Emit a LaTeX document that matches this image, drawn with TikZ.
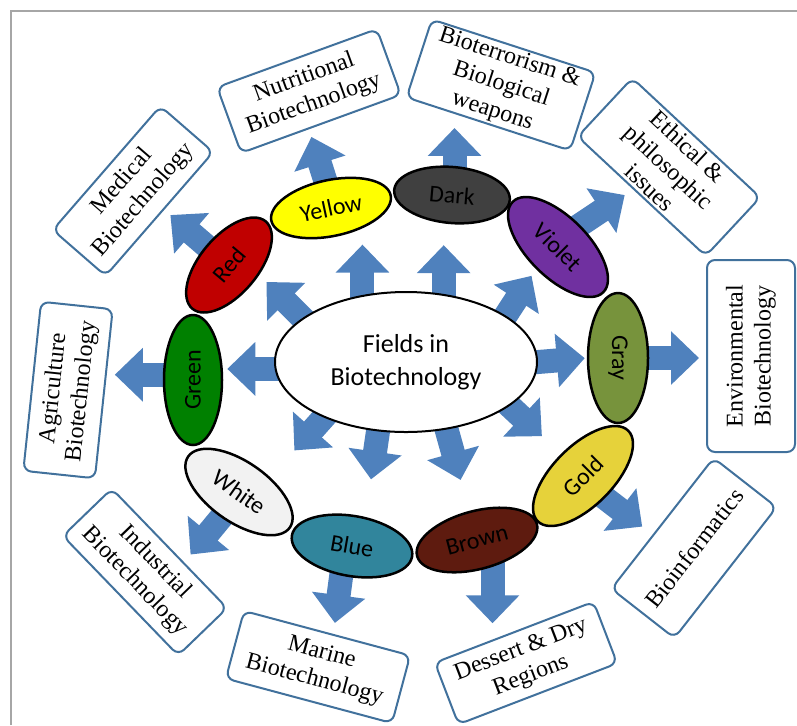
\documentclass[tikz,border=0pt]{standalone}
\usepackage{fontspec}
\setmainfont{Liberation Serif}
\newfontfamily\calibrisub{Carlito}
\usetikzlibrary{arrows.meta,shapes.geometric,backgrounds}

\definecolor{arrowblue}{HTML}{4F81BD}
\definecolor{boxedge}{HTML}{41719C}
\definecolor{framegray}{HTML}{A6A6A6}
\definecolor{fRed}{HTML}{C00000}
\definecolor{fYellow}{HTML}{FFFF00}
\definecolor{fDark}{HTML}{404040}
\definecolor{fViolet}{HTML}{7030A0}
\definecolor{fGray}{HTML}{77933C}
\definecolor{fGold}{HTML}{E6D23A}
\definecolor{fBrown}{HTML}{5E1B0F}
\definecolor{fBlue}{HTML}{31859C}
\definecolor{fWhite}{HTML}{F2F2F2}
\definecolor{fGreen}{HTML}{008000}

\begin{document}
\begin{tikzpicture}[
  x=0.5pt, y=-0.5pt,
  hub/.style      = {ellipse, draw, fill=white, line width=1pt, inner sep=0pt,
                     minimum width=131pt, minimum height=70pt, align=center,
                     font=\calibrisub\fontsize{13}{16.5}\selectfont},
  ringell/.style  = {ellipse, draw, line width=1.25pt, inner sep=0pt,
                     font=\calibrisub\fontsize{12}{14}\selectfont},
  topicbox/.style = {draw=boxedge, line width=1pt, rounded corners=4pt,
                     fill=white, align=center, inner sep=0pt,
                     font=\fontsize{12}{14}\selectfont},
  blockarr/.style = {draw=arrowblue, line width=12pt, shorten <=-5pt,
                     -{Triangle[width=26pt,length=14pt]}},
]
\useasboundingbox (0,0) rectangle (797,725);

%% ==== frame ===============================================================
\draw[framegray, line width=1pt] (11,725) -- (11,11) -- (797,11);

%% ==== hub =================================================================
\node[hub] (fields) at (406,362) {Fields in\\Biotechnology};

%% ==== ring of colour fields ===============================================
\node[ringell, fill=fRed,    minimum width=57pt, minimum height=29pt, rotate=50]
  (fred) at (229,265) {Red};
\node[ringell, fill=fYellow, minimum width=61pt, minimum height=28pt, rotate=12]
  (fyellow) at (331,208) {Yellow};
\node[ringell, fill=fDark,   minimum width=58pt, minimum height=28pt, rotate=-5]
  (fdark) at (452,195) {Dark};
\node[ringell, fill=fViolet, minimum width=64pt, minimum height=30pt, rotate=-45]
  (fviolet) at (558,247) {Violet};
\node[ringell, fill=fGray,   minimum width=65pt, minimum height=30pt, rotate=-90]
  (fgray) at (618,358) {Gray};
\node[ringell, fill=fGold,   minimum width=64pt, minimum height=30pt, rotate=45]
  (fgold) at (583,476) {Gold};
\node[ringell, fill=fBrown,  minimum width=62pt, minimum height=29pt, rotate=15]
  (fbrown) at (477,540) {Brown};
\node[ringell, fill=fBlue,   minimum width=61pt, minimum height=30pt, rotate=-10]
  (fblue) at (352,546) {Blue};
\node[ringell, fill=fWhite,  minimum width=62pt, minimum height=30pt, rotate=-35]
  (fwhite) at (239,492) {White};
\node[ringell, fill=fGreen,  minimum width=65pt, minimum height=29pt, rotate=90]
  (fgreen) at (193,380) {Green};

%% ==== outer topics ========================================================
\node[topicbox, minimum width=82pt, minimum height=35pt, rotate=49]
  (medic) at (133,191) {Medical\\Biotechnology};
\node[topicbox, minimum width=85pt, minimum height=35pt, rotate=20]
  (nutri) at (309,91) {Nutritional\\Biotechnology};
\node[topicbox, minimum width=86pt, minimum height=41pt, rotate=-18]
  (bioterr) at (501,85) {Bioterrorism \&\\Biological\\weapons};
\node[topicbox, minimum width=87.5pt, minimum height=40pt, rotate=-43]
  (ethic) at (669,167) {Ethical \&\\philosophic\\issues};
\node[topicbox, minimum width=96pt, minimum height=44pt, rotate=90]
  (enviro) at (751,356) {Environmental\\Biotechnology};
\node[topicbox, minimum width=83pt, minimum height=40pt, rotate=52]
  (bioinf) at (694,548) {Bioinformatics};
\node[topicbox, minimum width=85pt, minimum height=33pt, rotate=21]
  (desert) at (526,663) {Dessert \& Dry\\Regions};
\node[topicbox, minimum width=86pt, minimum height=35pt, rotate=-15]
  (marine) at (318,667) {Marine\\Biotechnology};
\node[topicbox, minimum width=83pt, minimum height=34pt, rotate=-46]
  (indus) at (145,572) {Industrial\\Biotechnology};
\node[topicbox, minimum width=85pt, minimum height=36pt, rotate=84]
  (agri) at (68,390) {Agriculture\\Biotechnology};

\begin{scope}[on background layer]
%% ==== hub to ring =========================================================
\draw[blockarr, shorten >=5pt]   (fields.157)  -- (fred.-68);
\draw[blockarr, shorten >=4pt]   (fields.123)  -- (fields.123 |- fyellow.south);
\draw[blockarr, shorten >=10.5pt](fields.61)   -- (fields.61 |- fdark.south);
\draw[blockarr, shorten >=4pt]   (fields.25)   -- (fviolet.south);
\draw[blockarr, shorten >=1pt]   (fields.east) -- (fgray.south);
\draw[blockarr, shorten >=13pt]  (fields.-23)  -- (fgold.north);
\draw[blockarr, shorten >=16pt]  (fields.-59)  -- (fbrown.north);
\draw[blockarr, shorten >=19pt]  (fields.-112) -- (fblue.75);
\draw[blockarr, shorten >=18pt]  (fields.-146) -- (fwhite.60);
\draw[blockarr, shorten >=2pt]   (fields.183)  -- (fields.183 -| fgreen.south);

%% ==== ring to topics ======================================================
\draw[blockarr, shorten >=4pt]   (fred.north)    -- (medic.-80);
\draw[blockarr, shorten >=4pt]   (fyellow.north) -- (nutri.-110);
\draw[blockarr, shorten >=1.5pt] (fdark.north)   -- (fdark.north |- bioterr.south);
\draw[blockarr, shorten >=5pt]   (fviolet.north) -- (ethic.-105);
\draw[blockarr, shorten >=3.5pt] (fgray.north)   -- (fgray.north -| enviro.north);
\draw[blockarr, shorten >=6.5pt] (fgold.south)   -- (bioinf.110);
\draw[blockarr, shorten >=4pt]   (fbrown.-75)    -- (fbrown.-75 |- desert.north);
\draw[blockarr, shorten >=5.5pt] (fblue.-100)    -- (marine.80);
\draw[blockarr, shorten >=5pt]   (fwhite.south)  -- (indus.60);
\draw[blockarr, shorten >=5pt]   (fgreen.80)     -- (fgreen.80 -| agri.south);
\end{scope}

\end{tikzpicture}
\end{document}
